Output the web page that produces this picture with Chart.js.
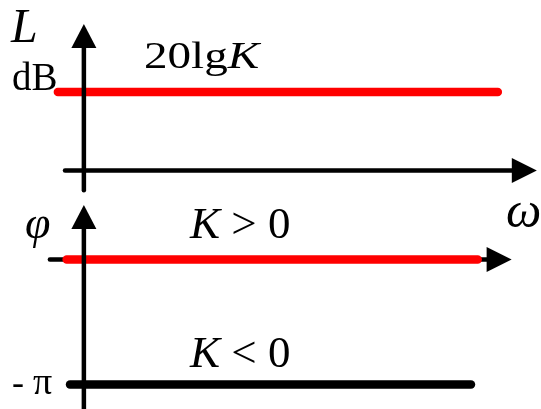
<!DOCTYPE html>
<html>
<head>
<meta charset="utf-8">
<title>Bode plot of a gain element K</title>
<script src="https://cdn.jsdelivr.net/npm/chart.js@4.4.1/dist/chart.umd.min.js"></script>
<style>
  html, body { margin: 0; padding: 0; background: #ffffff; }
  #wrap { width: 541px; height: 409px; position: relative; }
</style>
</head>
<body>
<div id="wrap"><canvas id="bodeChart"></canvas></div>
<script>
// --- data: ω extent of each curve (arbitrary units, origin at the φ/L axis) ---
const omegaMag = [-0.62, 9.87];
const omegaPhasePos = [-0.41, 9.39];
const omegaPhaseNeg = [-0.33, 9.23];

// magnitude in dB, K = 10 -> 20lgK = 20
const magValues = [20, 20];
// phase in rad: K > 0 -> 0, K < 0 -> -π
const phasePosValues = [0, 0];
const phaseNegValues = [-Math.PI, -Math.PI];

// axis extents, in the units of each scale
const magAxis = { xFrom: -0.45, xTo: 10.8, yFrom: -5, yTo: 37.3 };
const phaseAxis = { xFrom: -0.81, xTo: 10.2, yFrom: -4, yTo: 1.37 };

const RED = '#ff0000';
const BLACK = '#000000';
const SERIF = '"Liberation Serif", "Times New Roman", serif';

// text labels: pieces of [text, italic], font size, left x, baseline y, horizontal stretch
const labels = [
    { parts: [['L', true]], size: 48, x: 11, y: 42, sx: 1 },
    { parts: [['dB', false]], size: 39, x: 12, y: 90, sx: 1 },
    { parts: [['20lg', false], ['K', true]], size: 38, x: 144, y: 68, sx: 1.24 },
    { parts: [['\u03C9', true]], size: 50, x: 506, y: 227, sx: 1 },
    { parts: [['\u03C6', true]], size: 46, x: 25, y: 238, sx: 1 },
    { parts: [['K', true], [' > 0', false]], size: 45, x: 190, y: 238, sx: 1 },
    { parts: [['K', true], [' < 0', false]], size: 45, x: 190, y: 367, sx: 1 },
    { parts: [['-', false]], size: 36, x: 12, y: 394, sx: 1 },
    { parts: [['\u03C0', false]], size: 38, x: 33, y: 394, sx: 1 }
];

const toPoints = (xs, ys) => xs.map((x, i) => ({ x: x, y: ys[i] }));

const arrowHead = (ctx, tipX, tipY, dir, len, half) => {
    ctx.beginPath();
    ctx.moveTo(tipX, tipY);
    if (dir === 'up') {
        ctx.lineTo(tipX - half, tipY + len);
        ctx.lineTo(tipX + half, tipY + len);
    } else {
        ctx.lineTo(tipX - len, tipY - half);
        ctx.lineTo(tipX - len, tipY + half);
    }
    ctx.closePath();
    ctx.fill();
};

// horizontal ω axes under the curves, vertical axes on top of them
const bodeAxes = {
    id: 'bodeAxes',
    beforeDatasetsDraw(chart) {
        const { ctx, scales } = chart;
        ctx.save();
        ctx.strokeStyle = BLACK;
        ctx.fillStyle = BLACK;
        ctx.lineWidth = 4.5;
        ctx.lineCap = 'round';
        [[magAxis, scales.yL], [phaseAxis, scales.yP]].forEach(([ax, ys]) => {
            const y = ys.getPixelForValue(0);
            const x0 = scales.x.getPixelForValue(ax.xFrom);
            const x1 = scales.x.getPixelForValue(ax.xTo);
            ctx.beginPath();
            ctx.moveTo(x0, y);
            ctx.lineTo(x1 - 20, y);
            ctx.stroke();
            arrowHead(ctx, x1, y, 'right', 25, 12.5);
        });
        ctx.restore();
    },
    afterDatasetsDraw(chart) {
        const { ctx, scales } = chart;
        const x = scales.x.getPixelForValue(0);
        ctx.save();
        ctx.strokeStyle = BLACK;
        ctx.fillStyle = BLACK;
        ctx.lineWidth = 4.5;
        ctx.lineCap = 'round';
        [[magAxis, scales.yL], [phaseAxis, scales.yP]].forEach(([ax, ys]) => {
            const yBottom = ys.getPixelForValue(ax.yFrom);
            const yTip = ys.getPixelForValue(ax.yTo);
            ctx.beginPath();
            ctx.moveTo(x, yBottom);
            ctx.lineTo(x, yTip + 20);
            ctx.stroke();
            arrowHead(ctx, x, yTip, 'up', 24, 12.5);
        });
        ctx.restore();
    }
};

const bodeLabels = {
    id: 'bodeLabels',
    afterDraw(chart) {
        const ctx = chart.ctx;
        ctx.save();
        ctx.fillStyle = BLACK;
        ctx.textBaseline = 'alphabetic';
        ctx.textAlign = 'left';
        labels.forEach(lb => {
            ctx.save();
            ctx.translate(lb.x, lb.y);
            ctx.scale(lb.sx, 1);
            let cx = 0;
            lb.parts.forEach(([text, italic]) => {
                ctx.font = (italic ? 'italic ' : '') + lb.size + 'px ' + SERIF;
                ctx.fillText(text, cx, 0);
                cx += ctx.measureText(text).width;
            });
            ctx.restore();
        });
        ctx.restore();
    }
};

const lineStyle = (color, yAxisID) => ({
    borderColor: color,
    backgroundColor: color,
    borderWidth: 8.5,
    borderCapStyle: 'round',
    pointRadius: 0,
    tension: 0,
    fill: false,
    clip: false,
    yAxisID: yAxisID
});

new Chart(document.getElementById('bodeChart').getContext('2d'), {
    type: 'line',
    data: {
        datasets: [
            Object.assign({ label: '20lgK', data: toPoints(omegaMag, magValues) }, lineStyle(RED, 'yL')),
            Object.assign({ label: 'K > 0', data: toPoints(omegaPhasePos, phasePosValues) }, lineStyle(RED, 'yP')),
            Object.assign({ label: 'K < 0', data: toPoints(omegaPhaseNeg, phaseNegValues) }, lineStyle(BLACK, 'yP'))
        ]
    },
    options: {
        responsive: true,
        maintainAspectRatio: false,
        animation: false,
        events: [],
        layout: { padding: 0 },
        plugins: { legend: { display: false }, tooltip: { enabled: false } },
        scales: {
            x: { type: 'linear', min: -2, max: 10.9, display: false },
            yL: { type: 'linear', min: -60.76, max: 43.44, display: false },
            yP: { type: 'linear', min: -3.757, max: 6.522, display: false }
        }
    },
    plugins: [bodeAxes, bodeLabels]
});
</script>
</body>
</html>
